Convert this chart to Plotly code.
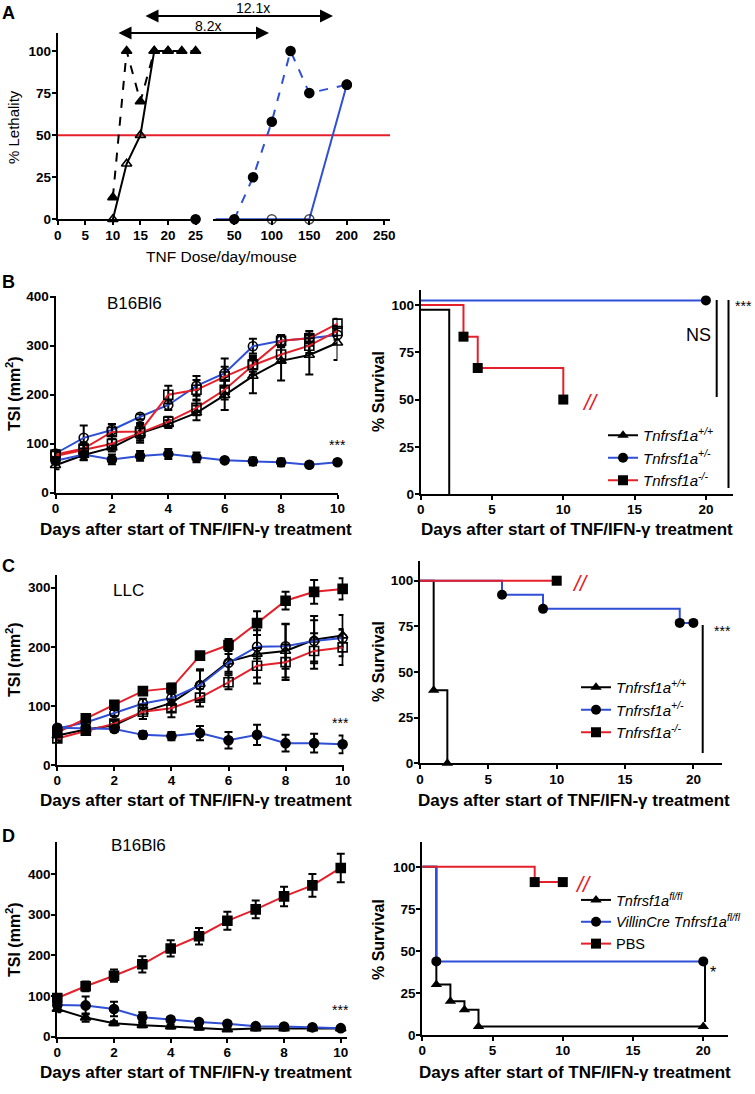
import plotly.graph_objects as go

W, H = 755, 1094
FONT = "Liberation Sans"
BLUE = "#2f4fd6"
RED = "#e5202a"
BLACK = "black"

# ---------------- DATA ----------------
# Panel A : % lethality vs TNF dose/day/mouse
A_wt_dose_dash = [10, 12.5, 15, 17.5, 20, 22.5, 25]
A_wt_leth_dash = [13, 100, 70, 100, 100, 100, 100]
A_wt_dose_solid = [10, 12.5, 15, 17.5, 20]
A_wt_leth_solid = [0, 33, 50, 100, 100]
A_het_dose_low = [25]
A_het_leth_low = [0]
A_het_dose_dash = [50, 75, 100, 125, 150, 200]
A_het_leth_dash = [0, 25, 58, 100, 75, 80]
A_het_dose_solid = [25, 100, 150, 200]
A_het_leth_solid = [0, 0, 0, 80]
A_het_solid_marked = [False, True, True, True]
A_ld50 = 50
A_xticks_lo = [0, 5, 10, 15, 20, 25]
A_xticks_hi = [50, 100, 150, 200, 250]
A_yticks = [0, 25, 50, 75, 100]

days = [0, 1, 2, 3, 4, 5, 6, 7, 8, 9, 10]

# Panel B (B16Bl6) tumour size index
B_wt_open = [56, 77, 92, 121, 140, 163, 199, 238, 269, 281, 306]
B_wt_open_err = [8, 10, 8, 15, 8, 15, 30, 35, 40, 40, 35]
B_het_open = [80, 112, 128, 155, 179, 218, 244, 299, 310, 315, 322]
B_het_open_err = [5, 25, 12, 5, 10, 20, 30, 15, 12, 10, 10]
B_ko_a = [78, 90, 124, 125, 200, 210, 237, 262, 310, 315, 345]
B_ko_a_err = [8, 12, 15, 15, 18, 20, 20, 15, 12, 15, 10]
B_ko_b = [75, 88, 100, 122, 145, 173, 210, 260, 282, 300, 330]
B_ko_b_err = [8, 10, 10, 20, 10, 15, 20, 20, 15, 15, 10]
B_het_tnf = [65, 78, 68, 75, 79, 72, 66, 64, 62, 57, 62]
B_het_tnf_err = [5, 12, 10, 10, 10, 10, 5, 8, 8, 5, 5]

# Panel B survival (Kaplan-Meier)
B_s_wt_t, B_s_wt = [0, 2], [97.5, 0]
B_s_wt_mark = []
B_s_het_t, B_s_het = [0, 20], [102.5, 102.5]
B_s_het_mark = [1]
B_s_ko_t, B_s_ko = [0, 3, 4, 10], [100, 83.3, 66.7, 50]
B_s_ko_mark = [1, 2, 3]

# Panel C (LLC)
C_ko_filled = [55, 79, 102, 125, 130, 185, 203, 240, 278, 293, 298]
C_ko_filled_err = [8, 5, 5, 5, 8, 5, 10, 20, 15, 20, 18]
C_wt_open = [50, 60, 67, 90, 105, 137, 175, 188, 193, 212, 219]
C_wt_open_err = [8, 8, 8, 12, 15, 25, 20, 40, 45, 40, 35]
C_het_open = [62, 72, 88, 104, 113, 135, 173, 200, 201, 210, 215]
C_het_open_err = [5, 5, 5, 8, 10, 25, 15, 20, 38, 35, 15]
C_ko_open = [45, 58, 70, 90, 96, 114, 140, 168, 174, 193, 199]
C_ko_open_err = [5, 5, 5, 12, 15, 15, 12, 30, 30, 30, 30]
C_het_tnf = [63, 62, 61, 51, 49, 54, 42, 51, 37, 37, 35]
C_het_tnf_err = [5, 6, 5, 6, 7, 12, 14, 17, 14, 16, 15]

C_s_wt_t, C_s_wt = [0, 1, 2], [100, 40, 0]
C_s_wt_mark = [1, 2]
C_s_het_t, C_s_het = [0, 6, 9, 19, 20], [100, 92.3, 84.6, 76.9, 76.9]
C_s_het_mark = [1, 2, 3, 4]
C_s_ko_t, C_s_ko = [0, 10], [100, 100]
C_s_ko_mark = [1]

# Panel D (B16Bl6, intestinal epithelium knockout)
D_pbs = [95, 124, 150, 178, 217, 247, 285, 313, 345, 372, 415]
D_pbs_err = [10, 12, 15, 20, 20, 20, 22, 22, 24, 28, 35]
D_villin = [78, 77, 68, 48, 42, 36, 32, 26, 25, 23, 21]
D_villin_err = [10, 22, 18, 12, 5, 5, 5, 5, 5, 5, 5]
D_flfl = [68, 47, 33, 28, 25, 22, 18, 20, 20, 20, 20]
D_flfl_err = [8, 10, 5, 5, 5, 4, 4, 4, 4, 4, 4]

D_s_fl_t, D_s_fl = [0, 1, 2, 3, 4, 20], [100, 30, 20, 15, 5, 5]
D_s_fl_mark = [1, 2, 3, 4, 5]
D_s_vil_t, D_s_vil = [0, 1, 20], [100, 43.75, 43.75]
D_s_vil_mark = [1, 2]
D_s_pbs_t, D_s_pbs = [0, 8, 10], [100, 90.9, 90.9]
D_s_pbs_mark = [1, 2]

tsi_ticks_B = [0, 100, 200, 300, 400]
tsi_ticks_C = [0, 100, 200, 300]
tsi_ticks_D = [0, 100, 200, 300, 400]
day_ticks = [0, 2, 4, 6, 8, 10]
surv_ticks = [0, 25, 50, 75, 100]
surv_day_ticks = [0, 5, 10, 15, 20]

LBL_WT = "<i>Tnfrsf1a<sup>+/+</sup></i>"
LBL_HET = "<i>Tnfrsf1a<sup>+/-</sup></i>"
LBL_KO = "<i>Tnfrsf1a<sup>-/-</sup></i>"
LBL_FL = "<i>Tnfrsf1a<sup>fl/fl</sup></i>"
LBL_VIL = "<i>VillinCre Tnfrsf1a<sup>fl/fl</sup></i>"
LBL_PBS = "PBS"
XTITLE = "Days after start of TNF/IFN-γ treatment"


# ---------------- helpers ----------------
def px(x):
    return x / W


def py(y):
    return 1 - y / H


layout = dict(
    width=W, height=H, margin=dict(l=0, r=0, t=0, b=0, autoexpand=False),
    paper_bgcolor="white", plot_bgcolor="white", showlegend=True,
    font=dict(family=FONT, color="black"),
    annotations=[], shapes=[],
)


def axis(dom_px, rng, ticks, horizontal, anchor, standoff=-2):
    if horizontal:
        dom = [px(dom_px[0]), px(dom_px[1])]
    else:
        dom = [py(dom_px[1]), py(dom_px[0])]
    return dict(
        domain=dom, range=rng, tickvals=ticks, ticks="outside", ticklen=4,
        tickwidth=2, tickcolor="black", showline=True, linewidth=2,
        linecolor="black", showgrid=False, zeroline=False, anchor=anchor,
        fixedrange=True, ticklabelstandoff=standoff, automargin=False,
        tickfont=dict(family=FONT, size=13.5, weight="bold", color="black"),
    )


def ann(text, x, y, size=15, bold=False, italic=False, color="black",
        angle=0, xanchor="center"):
    if italic:
        text = "<i>" + text + "</i>"
    layout["annotations"].append(dict(
        text=text, x=px(x), y=py(y), xref="paper", yref="paper",
        showarrow=False, xanchor=xanchor, yanchor="middle", textangle=angle,
        font=dict(family=FONT, size=size, color=color,
                  weight="bold" if bold else "normal"),
    ))


def vline(x, y0, y1):
    layout["shapes"].append(dict(
        type="line", xref="paper", yref="paper", x0=px(x), x1=px(x),
        y0=py(y0), y1=py(y1), line=dict(color="black", width=2)))


fig = go.Figure()


def series(xa, ya, xs, ys, color, symbol, err=None, dash="solid",
           msize=9, marked=None):
    sizes = msize if marked is None else [msize if m else 0 for m in marked]
    fig.add_trace(go.Scatter(
        x=xs, y=ys, xaxis=xa, yaxis=ya, mode="lines+markers",
        line=dict(color=color, width=2, dash=dash),
        marker=dict(symbol=symbol, size=sizes, color=BLACK,
                    line=dict(color=BLACK, width=1.6)),
        error_y=None if err is None else dict(
            type="data", array=err, color=BLACK, thickness=2, width=4),
        cliponaxis=False, showlegend=False, hoverinfo="skip"))


def km(xa, ya, ts, ss, marks, color, symbol, name, legend):
    fig.add_trace(go.Scatter(
        x=ts, y=ss, xaxis=xa, yaxis=ya, mode="lines+markers",
        line=dict(color=color, width=2, shape="hv"),
        marker=dict(symbol=symbol, size=10, color=BLACK),
        selectedpoints=marks,
        selected=dict(marker=dict(opacity=1)),
        unselected=dict(marker=dict(opacity=0)),
        cliponaxis=False, name=name, legend=legend, hoverinfo="skip"))


# ---------------- Panel A ----------------
layout["yaxis"] = axis([33, 219.3], [0, 110.7], A_yticks, False, "x")
layout["xaxis"] = axis([57.7, 200], [0, 25.8], A_xticks_lo, True, "y")
layout["xaxis2"] = axis([213, 390], [21.6, 257.6], A_xticks_hi, True, "y")

layout["shapes"].append(dict(
    type="line", xref="paper", yref="y", x0=px(57.7), x1=px(390),
    y0=A_ld50, y1=A_ld50, line=dict(color=RED, width=2), layer="below"))

series("x", "y", A_wt_dose_solid, A_wt_leth_solid, BLACK, "triangle-up-open")
series("x", "y", A_wt_dose_dash, A_wt_leth_dash, BLACK, "triangle-up", dash="dash")
series("x", "y", A_het_dose_low, A_het_leth_low, BLUE, "circle")
series("x2", "y", A_het_dose_solid, A_het_leth_solid, BLUE, "circle-open",
       marked=A_het_solid_marked)
series("x2", "y", A_het_dose_dash, A_het_leth_dash, BLUE, "circle", dash="dash")

ann("A", 8, 13, size=18, bold=True)
ann("% Lethality", 14, 127, size=15, angle=-90)
ann("TNF Dose/day/mouse", 221, 256, size=15.5)
# fold-change arrows
for (x0, x1, yy) in [(117, 269, 33), (144, 333, 16)]:
    layout["annotations"].append(dict(
        x=px(x1), y=py(yy), xref="paper", yref="paper", ax=x0 - x1, ay=0,
        axref="pixel", ayref="pixel", text="", showarrow=True,
        arrowhead=2, startarrowhead=2, arrowside="end+start", arrowsize=1.3,
        arrowwidth=2, arrowcolor="black", standoff=0, startstandoff=0))
ann("8.2x", 208, 26, size=14)
ann("12.1x", 253, 8, size=14)

# ---------------- Panel B ----------------
layout["xaxis3"] = axis([55.5, 337.5], [0, 10], day_ticks, True, "y3")
layout["yaxis3"] = axis([295.7, 492.7], [0, 402], tsi_ticks_B, False, "x3")
series("x3", "y3", days, B_wt_open, BLACK, "triangle-up-open", B_wt_open_err)
series("x3", "y3", days, B_het_open, BLUE, "circle-open", B_het_open_err)
series("x3", "y3", days, B_ko_a, RED, "square-open", B_ko_a_err)
series("x3", "y3", days, B_ko_b, RED, "square-open", B_ko_b_err)
series("x3", "y3", days, B_het_tnf, BLUE, "circle", B_het_tnf_err)

layout["xaxis4"] = axis([420.7, 733], [0, 21.9], surv_day_ticks, True, "y4")
layout["yaxis4"] = axis([290, 494], [0, 108], surv_ticks, False, "x4")
km("x4", "y4", B_s_wt_t, B_s_wt, B_s_wt_mark, BLACK, "triangle-up", LBL_WT, "legend")
km("x4", "y4", B_s_het_t, B_s_het, B_s_het_mark, BLUE, "circle", LBL_HET, "legend")
km("x4", "y4", B_s_ko_t, B_s_ko, B_s_ko_mark, RED, "square", LBL_KO, "legend")

ann("B", 8, 282, size=18, bold=True)
ann("B16Bl6", 134, 303, size=17)
ann("***", 337, 445, size=14)
ann("TSI (mm<sup>2</sup>)", 13, 394, size=16, bold=True, angle=-90)
ann(XTITLE, 196, 529, size=17, bold=True)
ann("% Survival", 378, 392, size=16, bold=True, angle=-90)
ann(XTITLE, 577, 529, size=17, bold=True)
ann("NS", 698, 335, size=18)
ann("***", 733, 306, size=14, xanchor="left")
ann("//", 590, 402, size=22, italic=True, color=RED)
vline(716.7, 300, 397)
vline(728.5, 300, 488)

# ---------------- Panel C ----------------
layout["xaxis5"] = axis([57.3, 343.5], [0, 10.03], day_ticks, True, "y5")
layout["yaxis5"] = axis([575, 765], [0, 321.5], tsi_ticks_C, False, "x5")
series("x5", "y5", days, C_wt_open, BLACK, "triangle-up-open", C_wt_open_err)
series("x5", "y5", days, C_het_open, BLUE, "circle-open", C_het_open_err)
series("x5", "y5", days, C_ko_open, RED, "square-open", C_ko_open_err)
series("x5", "y5", days, C_ko_filled, RED, "square", C_ko_filled_err)
series("x5", "y5", days, C_het_tnf, BLUE, "circle", C_het_tnf_err)

layout["xaxis6"] = axis([420, 721.7], [0, 22.07], surv_day_ticks, True, "y6")
layout["yaxis6"] = axis([561, 763.3], [0, 110.8], surv_ticks, False, "x6")
km("x6", "y6", C_s_wt_t, C_s_wt, C_s_wt_mark, BLACK, "triangle-up", LBL_WT, "legend2")
km("x6", "y6", C_s_het_t, C_s_het, C_s_het_mark, BLUE, "circle", LBL_HET, "legend2")
km("x6", "y6", C_s_ko_t, C_s_ko, C_s_ko_mark, RED, "square", LBL_KO, "legend2")

ann("C", 8, 566, size=18, bold=True)
ann("LLC", 128, 590, size=17)
ann("***", 340, 723, size=14)
ann("TSI (mm<sup>2</sup>)", 13, 660, size=16, bold=True, angle=-90)
ann(XTITLE, 196, 800, size=17, bold=True)
ann("% Survival", 378, 662, size=16, bold=True, angle=-90)
ann(XTITLE, 574, 800, size=17, bold=True)
ann("***", 722, 631, size=14)
ann("//", 580, 583, size=22, italic=True, color=RED)
vline(702.7, 625, 753)

# ---------------- Panel D ----------------
layout["xaxis7"] = axis([57.3, 346.7], [0, 10.21], day_ticks, True, "y7")
layout["yaxis7"] = axis([841.7, 1036.7], [0, 479.5], tsi_ticks_D, False, "x7")
series("x7", "y7", days, D_flfl, BLACK, "triangle-up", D_flfl_err)
series("x7", "y7", days, D_villin, BLUE, "circle", D_villin_err)
series("x7", "y7", days, D_pbs, RED, "square", D_pbs_err)

layout["xaxis8"] = axis([422.3, 728.3], [0, 21.78], surv_day_ticks, True, "y8")
layout["yaxis8"] = axis([841.7, 1035], [0, 114.9], surv_ticks, False, "x8")
km("x8", "y8", D_s_fl_t, D_s_fl, D_s_fl_mark, BLACK, "triangle-up", LBL_FL, "legend3")
km("x8", "y8", D_s_vil_t, D_s_vil, D_s_vil_mark, BLUE, "circle", LBL_VIL, "legend3")
km("x8", "y8", D_s_pbs_t, D_s_pbs, D_s_pbs_mark, RED, "square", LBL_PBS, "legend3")

ann("D", 8, 836, size=18, bold=True)
ann("B16Bl6", 138, 845, size=17)
ann("***", 340, 1010, size=14)
ann("TSI (mm<sup>2</sup>)", 13, 940, size=16, bold=True, angle=-90)
ann(XTITLE, 196, 1072, size=17, bold=True)
ann("% Survival", 378, 940, size=16, bold=True, angle=-90)
ann(XTITLE, 575, 1072, size=17, bold=True)
ann("*", 713, 972, size=16)
ann("//", 583, 884, size=22, italic=True, color=RED)
vline(705, 965, 1022)


def legend(x, ytop, size=15):
    return dict(x=px(x), y=py(ytop), xanchor="left", yanchor="top",
                xref="paper", yref="paper", bgcolor="rgba(0,0,0,0)",
                font=dict(family=FONT, size=size, color="black"),
                itemwidth=30, tracegroupgap=0, traceorder="normal")


layout["legend"] = legend(603, 419)
layout["legend2"] = legend(576, 671)
layout["legend3"] = legend(576, 884, size=14.5)

fig.update_layout(**layout)
# the page body gets no default margin, so the figure sits at the window's corner
fig.write_html("out.html",
               config={"displayModeBar": False, "staticPlot": True},
               post_script="document.body.style.margin='0px';"
                           "document.body.style.overflow='hidden';")
